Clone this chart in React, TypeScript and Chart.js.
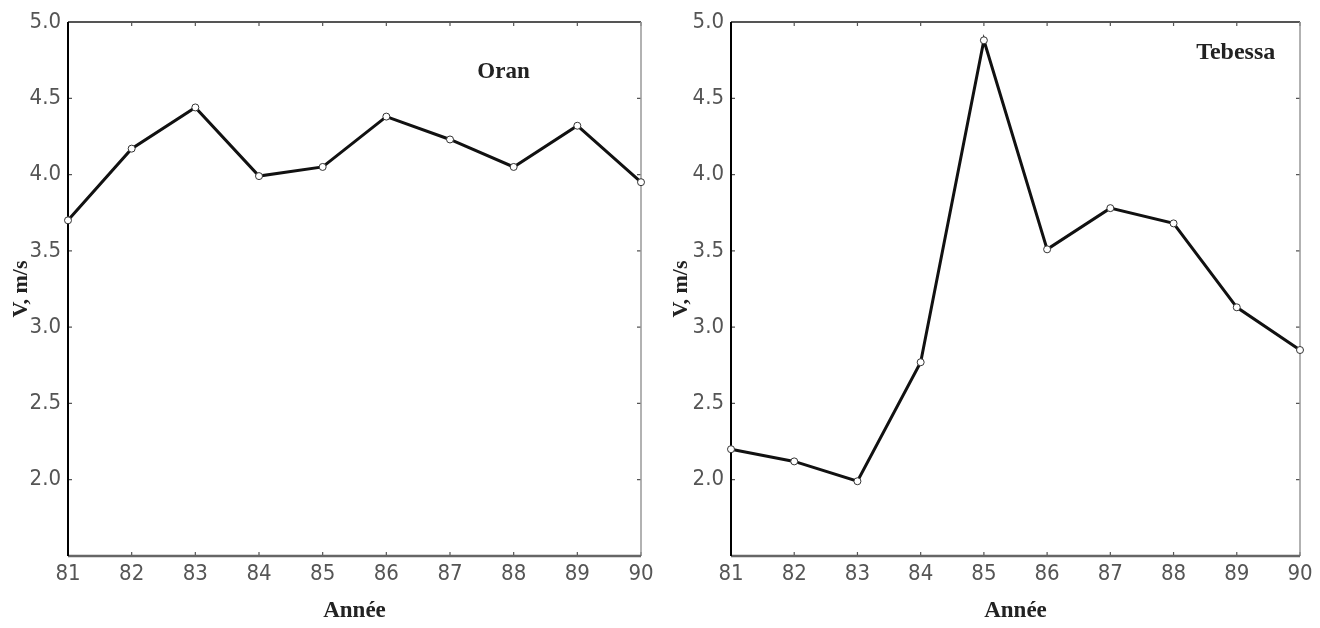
import React, { useEffect, useRef } from 'react';
import { Chart, registerables } from 'chart.js';

Chart.register(...registerables);

// ---- data ----
const years = ['81', '82', '83', '84', '85', '86', '87', '88', '89', '90'];
const oranValues = [3.70, 4.17, 4.44, 3.99, 4.05, 4.38, 4.23, 4.05, 4.32, 3.95];
const tebessaValues = [2.20, 2.12, 1.99, 2.77, 4.88, 3.51, 3.78, 3.68, 3.13, 2.85];
const yTickValues = [2.0, 2.5, 3.0, 3.5, 4.0, 4.5, 5.0];
const yMin = 1.5;
const yMax = 5.0;
const xTitle = 'Année';
const yTitle = 'V, m/s';
const stationNames = ['Oran', 'Tebessa'];

const TICK_FONT = "'Liberation Sans Narrow', 'DejaVu Sans Condensed', 'Arial Narrow', sans-serif";
const SERIF = "'Liberation Serif', 'Times New Roman', serif";

const framePlugin = {
  id: 'frame',
  beforeDatasetsDraw(chart: any) {
    const { ctx, chartArea: a, scales } = chart;
    ctx.save();
    // inward tick marks
    ctx.strokeStyle = '#555';
    ctx.lineWidth = 1.2;
    const xs = scales.x;
    const ys = scales.y;
    xs.ticks.forEach((_t: any, i: number) => {
      const px = xs.getPixelForTick(i);
      ctx.beginPath();
      ctx.moveTo(px, a.bottom); ctx.lineTo(px, a.bottom - 4);
      ctx.moveTo(px, a.top); ctx.lineTo(px, a.top + 4);
      ctx.stroke();
    });
    ys.ticks.forEach((_t: any, i: number) => {
      const py = ys.getPixelForTick(i);
      ctx.beginPath();
      ctx.moveTo(a.left, py); ctx.lineTo(a.left + 4, py);
      ctx.moveTo(a.right, py); ctx.lineTo(a.right - 4, py);
      ctx.stroke();
    });
    // top
    ctx.strokeStyle = '#555';
    ctx.lineWidth = 2;
    ctx.beginPath(); ctx.moveTo(a.left, a.top); ctx.lineTo(a.right, a.top); ctx.stroke();
    // right
    ctx.strokeStyle = '#999';
    ctx.lineWidth = 1.5;
    ctx.beginPath(); ctx.moveTo(a.right, a.top); ctx.lineTo(a.right, a.bottom); ctx.stroke();
    // bottom
    ctx.strokeStyle = '#666';
    ctx.lineWidth = 2.5;
    ctx.beginPath(); ctx.moveTo(a.left, a.bottom); ctx.lineTo(a.right, a.bottom); ctx.stroke();
    // left
    ctx.strokeStyle = '#000';
    ctx.lineWidth = 2;
    ctx.beginPath(); ctx.moveTo(a.left, a.top); ctx.lineTo(a.left, a.bottom); ctx.stroke();
    ctx.restore();
  },
  afterDraw(chart: any, _args: any, opts: any) {
    if (!opts || !opts.text) return;
    const { ctx, chartArea: a } = chart;
    ctx.save();
    ctx.font = opts.font;
    ctx.fillStyle = '#222';
    ctx.textAlign = 'center';
    ctx.textBaseline = 'middle';
    ctx.fillText(opts.text, a.left + opts.fx * (a.right - a.left), a.top + opts.fy * (a.bottom - a.top));
    ctx.restore();
  },
};

type PanelProps = {
  values: number[];
  station: string;
  yWidth: number;
  padRight: number;
  fx: number;
  fy: number;
  labelFont: string;
};

function Panel({ values, station, yWidth, padRight, fx, fy, labelFont }: PanelProps) {
  const ref = useRef<HTMLCanvasElement | null>(null);
  useEffect(() => {
    if (!ref.current) return;
    const chart = new Chart(ref.current, {
      type: 'line',
      data: {
        labels: years,
        datasets: [
          {
            label: station,
            data: values,
            borderColor: '#111',
            borderWidth: 3,
            tension: 0,
            pointRadius: 3.5,
            pointBackgroundColor: '#fff',
            pointBorderColor: '#333',
            pointBorderWidth: 1,
          },
        ],
      },
      options: {
        animation: false,
        responsive: false,
        layout: { padding: { top: 22, right: padRight, left: 0, bottom: 0 } },
        plugins: {
          legend: { display: false },
          tooltip: { enabled: false },
          frame: { text: station, fx, fy, font: labelFont },
        } as any,
        scales: {
          x: {
            type: 'category',
            offset: false,
            grid: { display: false, drawTicks: false },
            border: { display: false },
            ticks: {
              color: '#555',
              padding: 5,
              maxRotation: 0,
              autoSkip: false,
              font: { family: TICK_FONT, size: 22 },
            },
            title: {
              display: true,
              text: xTitle,
              color: '#222',
              font: { family: SERIF, size: 23, weight: 'bold' },
              padding: { top: 0, bottom: 3 },
            },
            afterFit: (s: any) => { s.height = 72; },
          },
          y: {
            min: yMin,
            max: yMax,
            grid: { display: false, drawTicks: false },
            border: { display: false },
            afterBuildTicks: (s: any) => { s.ticks = yTickValues.map((v) => ({ value: v })); },
            ticks: {
              color: '#555',
              padding: 7,
              font: { family: TICK_FONT, size: 22 },
              callback: (v: any) => Number(v).toFixed(1),
            },
            title: {
              display: true,
              text: yTitle,
              color: '#222',
              font: { family: SERIF, size: 22, weight: 'bold' },
              padding: { top: 8, bottom: 0 },
            },
            afterFit: (s: any) => { s.width = yWidth; },
          },
        },
      },
      plugins: [framePlugin],
    });
    return () => chart.destroy();
  }, []);
  return <canvas ref={ref} width={660} height={628} style={{ display: 'block', width: 660, height: 628 }} />;
}

export default function App() {
  return (
    <div style={{ position: 'absolute', left: 0, top: 0, width: 1320, height: 628, display: 'flex', background: '#fff' }}>
      <Panel values={oranValues} station={stationNames[0]} yWidth={68} padRight={19} fx={0.76} fy={0.094} labelFont={`bold 23px ${SERIF}`} />
      <Panel values={tebessaValues} station={stationNames[1]} yWidth={71} padRight={20} fx={0.887} fy={0.058} labelFont={`bold 24px ${SERIF}`} />
    </div>
  );
}
